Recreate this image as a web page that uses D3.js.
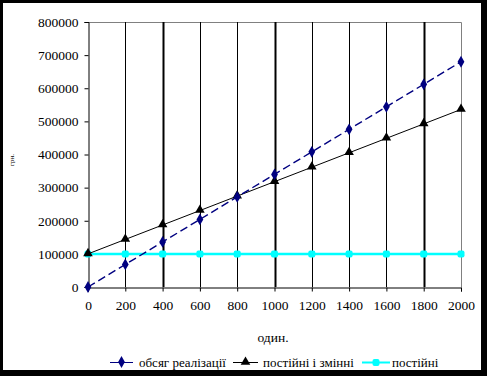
<!DOCTYPE html>
<html><head><meta charset="utf-8">
<script src="https://cdn.jsdelivr.net/npm/d3@7"></script>
<style>
html,body{margin:0;padding:0;background:#fff;}
svg{display:block;}
</style></head>
<body>
<svg id="c" width="487" height="376"></svg>
<script>
const units = [0,200,400,600,800,1000,1200,1400,1600,1800,2000];
const revenue = [0,68000,136000,204000,272000,340000,408000,476000,544000,612000,680000];
const totalCost = [100000,143600,187200,230800,274400,318000,361600,405200,448800,492400,536000];
const fixedCost = [100000,100000,100000,100000,100000,100000,100000,100000,100000,100000,100000];
const yTicks = [0,100000,200000,300000,400000,500000,600000,700000,800000];
const seriesNames = ["обсяг реалізації","постійні і змінні","постійні"];
const xTitle = "один.";
const yTitle = "грн.";
const FONT = "'Liberation Serif', 'Times New Roman', serif";

const svg = d3.select("#c");
svg.append("rect").attr("x",0).attr("y",0).attr("width",487).attr("height",376).attr("fill","#000");
svg.append("rect").attr("x",3).attr("y",3).attr("width",478).attr("height",367).attr("fill","#fff");

const L=88,R=461,T=22,B=287;
const x = d3.scaleLinear().domain([0,2000]).range([L,R]);
const y = d3.scaleLinear().domain([0,800000]).range([B,T]);

svg.append("path").attr("d",`M${L},${T+0.5}H${R+0.5}V${B}`).attr("fill","none").attr("stroke","#808080").attr("stroke-width",1);

svg.append("g").selectAll("line").data(units.slice(1,-1)).join("line")
  .attr("x1",d=>Math.round(x(d))+0.5).attr("x2",d=>Math.round(x(d))+0.5)
  .attr("y1",T).attr("y2",B)
  .attr("stroke","#000").attr("stroke-width",d=>(d===400||d===1000||d===1800)?2:1);

const yAxis = d3.axisLeft(y).tickValues(yTicks).tickSize(4).tickPadding(6).tickFormat(d3.format("d"));
const gy = svg.append("g").attr("transform",`translate(${L+0.5},0)`).call(yAxis);
gy.select(".domain").attr("stroke","#000");
gy.selectAll(".tick line").attr("stroke","#000");
gy.selectAll("text").style("font-size","13.5px").style("font-family",FONT).attr("fill","#000");

const xAxis = d3.axisBottom(x).tickValues(units).tickSize(4).tickPadding(9).tickFormat(d3.format("d"));
const gx = svg.append("g").attr("transform",`translate(0,${B+0.5})`).call(xAxis);
gx.select(".domain").attr("stroke","#000");
gx.selectAll(".tick line").attr("stroke","#000");
gx.selectAll("text").style("font-size","13.5px").style("font-family",FONT).attr("fill","#000");

svg.append("text").attr("x",273).attr("y",342).attr("text-anchor","middle")
  .style("font-size","13.5px").style("font-family",FONT).text(xTitle);
svg.append("text").attr("transform","translate(14,160) rotate(-90)").attr("text-anchor","middle")
  .style("font-size","7px").style("font-family",FONT).text(yTitle);

const line = d3.line().x((d,i)=>x(units[i])).y(d=>y(d));

svg.append("path").datum(fixedCost).attr("d",line).attr("fill","none").attr("stroke","#00FFFF").attr("stroke-width",2.5);
svg.append("g").selectAll("rect").data(fixedCost).join("rect")
  .attr("x",(d,i)=>x(units[i])-3.5).attr("y",d=>y(d)-3.5).attr("width",7).attr("height",7).attr("rx",2).attr("fill","#00FFFF");

svg.append("path").datum(totalCost).attr("d",line).attr("fill","none").attr("stroke","#000").attr("stroke-width",1);
const tri = d3.symbol().type(d3.symbolTriangle).size(40);
svg.append("g").selectAll("path").data(totalCost).join("path")
  .attr("transform",(d,i)=>`translate(${x(units[i])},${y(d)-0.5})`).attr("d",tri).attr("fill","#000");

svg.append("path").datum(revenue).attr("d",line).attr("fill","none").attr("stroke","#000080").attr("stroke-width",1.4).attr("stroke-dasharray","8,4");
const dia = d3.symbol().type(d3.symbolDiamond).size(40);
svg.append("g").selectAll("path").data(revenue).join("path")
  .attr("transform",(d,i)=>`translate(${x(units[i])},${y(d)})`).attr("d",dia).attr("fill","#000080");

const lg = svg.append("g");
const legendItems = [
  {x1:110,x2:133,tx:139,color:"#000080",sym:"dia"},
  {x1:233,x2:258,tx:263,color:"#000",sym:"tri"},
  {x1:362,x2:390,tx:392,color:"#00FFFF",sym:"sq"}
];
legendItems.forEach((it,i)=>{
  const cy=362, mx=(it.x1+it.x2)/2;
  lg.append("line").attr("x1",it.x1).attr("x2",it.x2).attr("y1",cy+0.5).attr("y2",cy+0.5).attr("stroke",it.color).attr("stroke-width",it.sym==="sq"?2:1);
  if(it.sym==="dia") lg.append("path").attr("transform",`translate(${mx},${cy})`).attr("d",dia).attr("fill",it.color);
  if(it.sym==="tri") lg.append("path").attr("transform",`translate(${mx},${cy})`).attr("d",tri).attr("fill",it.color);
  if(it.sym==="sq") lg.append("rect").attr("x",mx-3.5).attr("y",cy-3).attr("width",7).attr("height",7).attr("rx",2).attr("fill",it.color);
  lg.append("text").attr("x",it.tx).attr("y",cy+4.5).style("font-size","13px").style("font-family",FONT).text(seriesNames[i]);
});
</script>
</body></html>
